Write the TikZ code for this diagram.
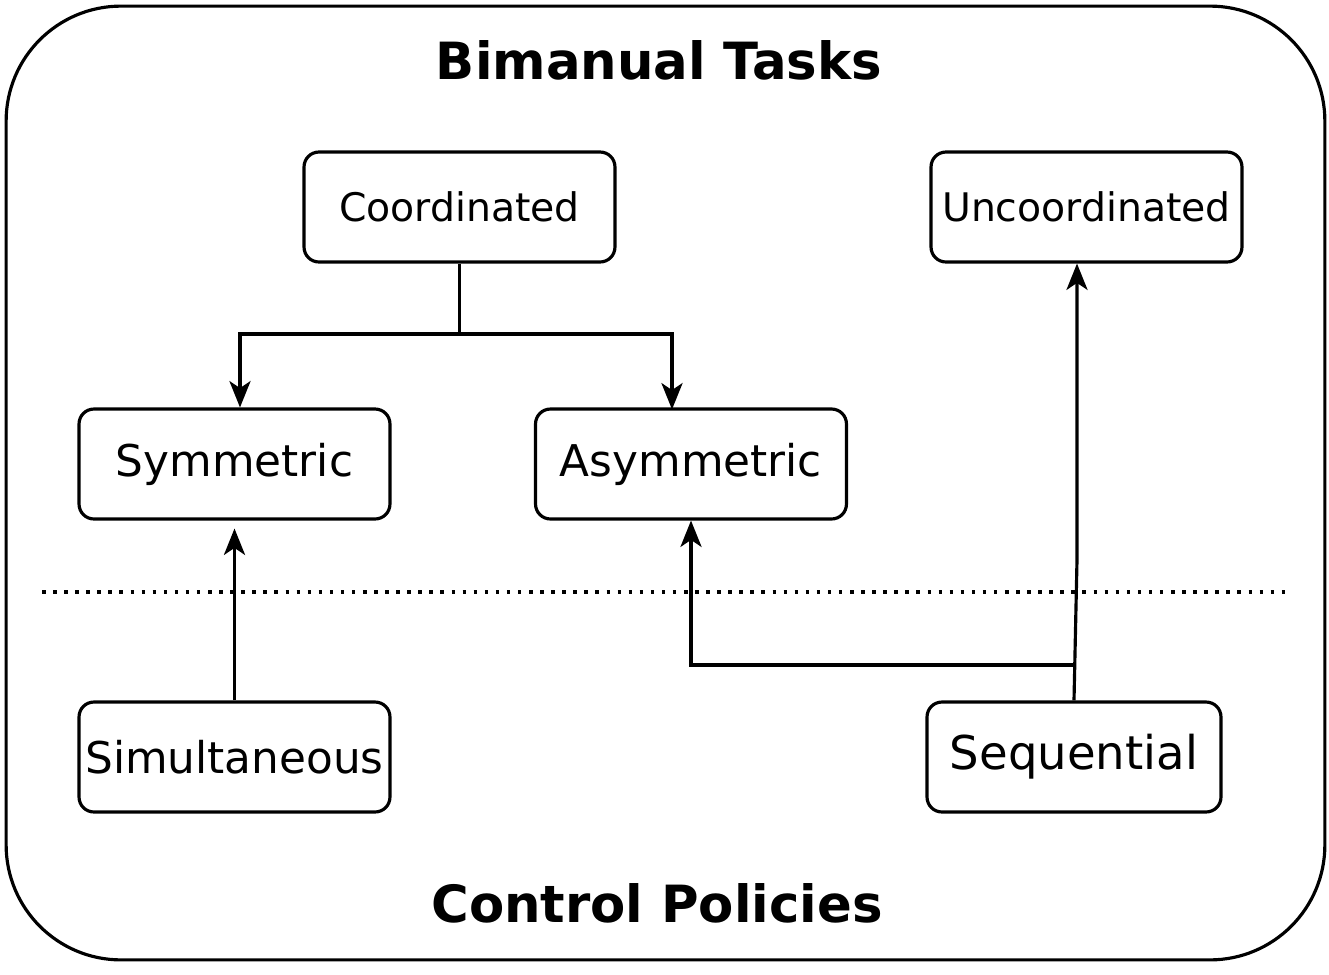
\documentclass[tikz,border=0pt]{standalone}
\usepackage{fontspec}
\setmainfont{DejaVu Sans}
\usetikzlibrary{arrows.meta}

\begin{document}
\begin{tikzpicture}[x=0.02cm, y=-0.02cm]
  \tikzstyle{task}=[draw, line width=1.8pt, rounded corners=8.5pt, minimum width=6.22cm, minimum height=2.2cm, inner sep=0pt]
  \tikzstyle{big}=[font=\fontsize{24.9}{28}\selectfont]
  \tikzstyle{small}=[font=\fontsize{22.4}{26}\selectfont]
  \tikzstyle{title}=[font=\fontsize{29.2}{33}\selectfont\bfseries]
  \tikzstyle{link}=[line width=1.8pt, -{Stealth[length=15pt, width=12pt, inset=4pt]}]
  \useasboundingbox (0,0) rectangle (1329,974);

  % outer frame
  \node (frame) at (665.5,483) [draw, line width=1.8pt, rounded corners=2.3cm, minimum width=26.38cm, minimum height=19.08cm] {};
  \node (tasks) at (659,60) [title] {Bimanual Tasks};
  \node (policies) at (657,903) [title] {Control Policies};

  % task classes
  \node (coord) at (459.5,207) [task, small] {Coordinated};
  \node (uncoord) at (1086.5,207) [task, small] {Uncoordinated};
  \node (sym) at (234.5,464) [task, big] {Symmetric};
  \node (asym) at (691,464) [task, big] {Asymmetric};

  % policies
  \node (simul) at (234.5,757) [task, big] {Simultaneous};
  \node (seq) at (1074,757) [task, minimum width=5.88cm, font=\fontsize{26.5}{30}\selectfont] {Sequential};

  % separator
  \draw[line width=2pt, dash pattern=on 2pt off 4.3pt] (42,592) -- (1290,592);

  % coordinated split
  \coordinate (split) at (459.5,334);
  \draw[line width=1.8pt] (coord.south) -- (split);
  \draw[link] (split) -| ([xshift=5.5*0.02cm]sym.north);
  \draw[link] (split) -| ([xshift=-19*0.02cm, yshift=-2*0.02cm]asym.north);

  % policy links
  \draw[link] (simul.north) -- ([yshift=-8*0.02cm]sym.south);
  \coordinate (bend) at (1077,560);
  \coordinate (fork) at (1074,665);
  \draw[link] (seq.north) -- (bend) -- ([xshift=-9.5*0.02cm]uncoord.south);
  \draw[link] (fork) -| (asym.south);
\end{tikzpicture}
\end{document}
